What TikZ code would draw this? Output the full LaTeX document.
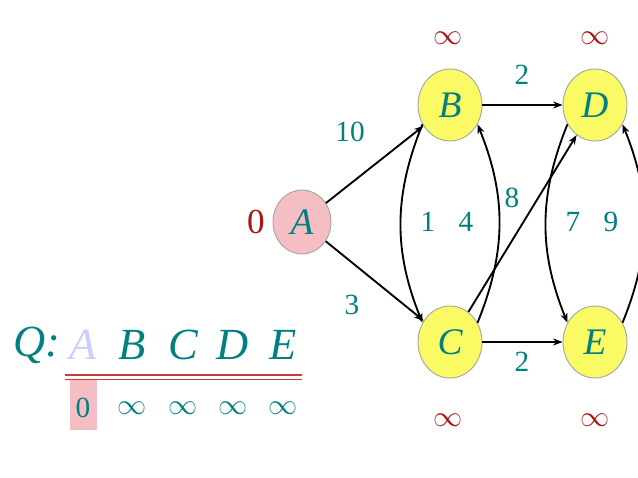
\documentclass[tikz,border=0pt]{standalone}
\usepackage{fontspec}
\setmainfont{Liberation Serif}
\usetikzlibrary{shapes.geometric,arrows.meta}
\definecolor{tealx}{RGB}{0,128,128}
\definecolor{redx}{RGB}{170,20,20}
\definecolor{linex}{RGB}{200,60,60}
\definecolor{pinkx}{RGB}{245,190,195}
\definecolor{yelx}{RGB}{250,250,100}
\begin{document}
\begin{tikzpicture}[x=0.03cm,y=-0.03cm,
  vert/.style={ellipse,draw=gray!70,line width=0.8pt,fill=yelx,minimum width=64*0.03cm,minimum height=72*0.03cm,font=\fontsize{32}{32}\selectfont\itshape,text=tealx,inner sep=0pt},
  lab/.style={font=\fontsize{25}{25}\selectfont,text=tealx},
  inf/.style={font=\fontsize{30}{30}\selectfont,text=redx},
  ed/.style={-{Stealth[length=8pt,width=6pt]},line width=1.6pt},
  ql/.style={font=\fontsize{38}{38}\selectfont\itshape,text=tealx}]
\useasboundingbox (0,0) rectangle (638,478);
\node[vert,fill=pinkx,minimum width=58*0.03cm,minimum height=64*0.03cm] (A) at (302,222) {A};
\node[vert] (B) at (450,105) {B};
\node[vert] (D) at (595,105) {D};
\node[vert] (C) at (450,342) {C};
\node[vert] (E) at (595,342) {E};
\node[inf] (iB) at (448,38) {$\infty$};
\node[inf] (iD) at (595,38) {$\infty$};
\node[inf] (iC) at (448,420) {$\infty$};
\node[inf] (iE) at (595,420) {$\infty$};
\node[font=\fontsize{30}{30}\selectfont,text=redx] (z) at (256,222) {0};
\draw[ed] (A) -- (B);
\draw[ed] (A) -- (C);
\draw[ed] (B) -- (D);
\draw[ed] (C) -- (E);
\draw[ed] (C) -- (D);
\draw[ed] (B.215) to[bend right=22] (C.145);
\draw[ed] (C.35) to[bend right=22] (B.325);
\draw[ed] (D.215) to[bend right=22] (E.145);
\draw[ed] (E.35) to[bend right=22] (D.325);
\node[lab] (l10) at (350,132) {10};
\node[lab] (l3) at (352,305) {3};
\node[lab] (l2a) at (522,75) {2};
\node[lab] (l2b) at (522,362) {2};
\node[lab] (l8) at (512,198) {8};
\node[lab] (l1) at (428,222) {1};
\node[lab] (l4) at (466,222) {4};
\node[lab] (l7) at (573,222) {7};
\node[lab] (l9) at (611,222) {9};
% queue
\fill[pinkx] (70,380) rectangle (97,430);
\draw[linex,line width=1.3pt] (65,375) -- (302,375);
\draw[linex,line width=1.3pt] (65,379.5) -- (302,379.5);
\node[ql] (qQ) at (37,345) {Q:};
\node[ql,text=blue!20] (qA) at (83,345) {A};
\node[ql] (qB) at (132,345) {B};
\node[ql] (qC) at (183,345) {C};
\node[ql] (qD) at (233,345) {D};
\node[ql] (qE) at (283,345) {E};
\node[lab] (v0) at (83,408) {0};
\node[lab] (v1) at (132,408) {$\infty$};
\node[lab] (v2) at (183,408) {$\infty$};
\node[lab] (v3) at (233,408) {$\infty$};
\node[lab] (v4) at (283,408) {$\infty$};
\end{tikzpicture}
\end{document}
